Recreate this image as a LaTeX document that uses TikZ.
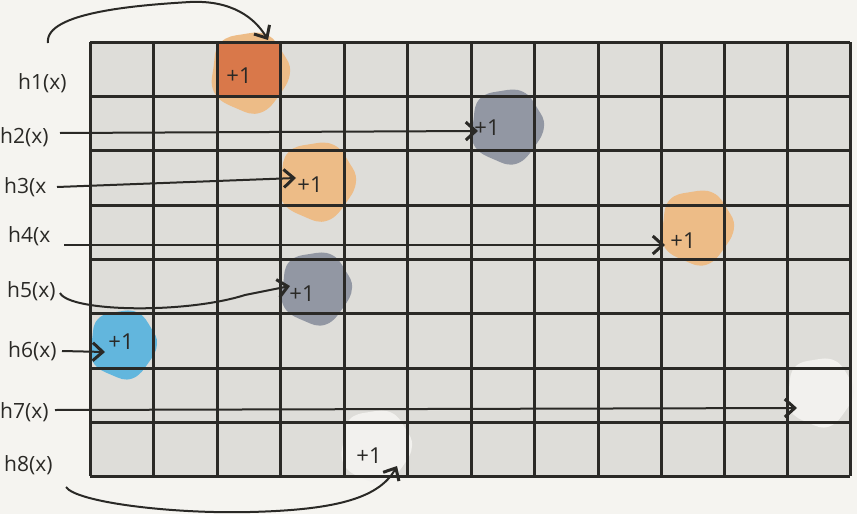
\documentclass[tikz,border=0pt]{standalone}
\usepackage{fontspec}
\setmainfont{Open Sans}
\usetikzlibrary{arrows.meta}
\definecolor{bgc}{HTML}{F5F4F0}
\definecolor{cellc}{HTML}{DEDDD9}
\definecolor{inkc}{HTML}{2A2926}
\definecolor{orlight}{HTML}{EDBC87}
\definecolor{ordark}{HTML}{D9784A}
\definecolor{grayb}{HTML}{9297A3}
\definecolor{blueb}{HTML}{62B6DD}
\definecolor{whiteb}{HTML}{F2F1EE}
\newcommand{\myblob}[4]{%
  \begin{scope}[shift={(#1,#2)}, scale=#3]
    \fill[#4] plot[smooth cycle, tension=0.75] coordinates {(0:1) (35:0.93) (75:1.05) (110:0.97) (150:1.03) (190:0.92) (225:1.04) (260:0.96) (295:1.02) (330:0.95)};
  \end{scope}}
\begin{document}
\begin{tikzpicture}[x=1pt,y=-1pt,
  lbl/.style={font=\fontsize{21}{24}\selectfont, text=inkc, anchor=west, inner sep=0pt},
  plus/.style={font=\fontsize{22}{24}\selectfont, text=inkc, inner sep=0pt},
  gridline/.style={draw=inkc, line width=3pt},
  ptr/.style={draw=inkc, line width=2pt, -{Straight Barb[length=10pt,width=18pt,line width=3pt]}}]
\fill[bgc] (0,0) rectangle (857,514);
\useasboundingbox (0,0) rectangle (857,514);
% cells
\fill[cellc] (90,42) rectangle (850,476);
% blobs
\myblob{250}{72}{40}{orlight}
\fill[ordark] (217,42) rectangle (280,96);
\myblob{507}{126}{37}{grayb}
\myblob{317}{181}{39}{orlight}
\myblob{697}{227}{37}{orlight}
\myblob{316}{288}{36}{grayb}
\myblob{123}{344}{34}{blueb}
\myblob{820}{392}{34}{whiteb}
\myblob{376}{446}{36}{whiteb}
% grid
\foreach \x in {90,153.5,217,280,344,407,471,534,598,661,724,787,850}
  \draw[gridline] (\x,42) -- (\x,476);
\foreach \y in {42,96,150,205,259,313,368,422,476}
  \draw[gridline] (90,\y) -- (850,\y);
% labels
\node[lbl] (h1) at (18,83) {h1(x)};
\node[lbl] (h2) at (0,137) {h2(x)};
\node[lbl] (h3) at (4,187) {h3(x};
\node[lbl] (h4) at (8,236) {h4(x};
\node[lbl] (h5) at (7,291) {h5(x)};
\node[lbl] (h6) at (8,351) {h6(x)};
\node[lbl] (h7) at (0,412) {h7(x)};
\node[lbl] (h8) at (4,465) {h8(x)};
% +1 texts
\node[plus] (p1) at (239,76) {+1};
\node[plus] (p2) at (487,128) {+1};
\node[plus] (p3) at (310,185) {+1};
\node[plus] (p4) at (683,241) {+1};
\node[plus] (p5) at (302,294) {+1};
\node[plus] (p6) at (121,342) {+1};
\node[plus] (p8) at (369,456) {+1};
% arrow endpoints
\coordinate (s1) at (48,43);
\coordinate (t1) at (268,40);
\coordinate (s2) at (60,133);
\coordinate (t2) at (478,131);
\coordinate (s3) at (57,187);
\coordinate (t3) at (296,178);
\coordinate (s4) at (64,245);
\coordinate (t4) at (665,245);
\coordinate (s5) at (60,293);
\coordinate (t5) at (290,286);
\coordinate (s6) at (62,351);
\coordinate (t6) at (105,352);
\coordinate (s7) at (55,410);
\coordinate (t7) at (797,408);
\coordinate (s8) at (66,487);
\coordinate (t8) at (397,466);
% arrows
\draw[ptr] (s1) .. controls (44,12) and (140,5) .. (190,2) .. controls (232,0) and (255,18) .. (t1);
\draw[ptr] (s2) -- (t2);
\draw[ptr] (s3) -- (t3);
\draw[ptr] (s4) -- (t4);
\draw[ptr] (s5) .. controls (70,312) and (185,314) .. (245,295) -- (t5);
\draw[ptr] (s6) -- (t6);
\draw[ptr] (s7) -- (t7);
\draw[ptr] (s8) .. controls (76,502) and (170,514) .. (250,512) .. controls (330,510) and (378,500) .. (t8);
\end{tikzpicture}
\end{document}
